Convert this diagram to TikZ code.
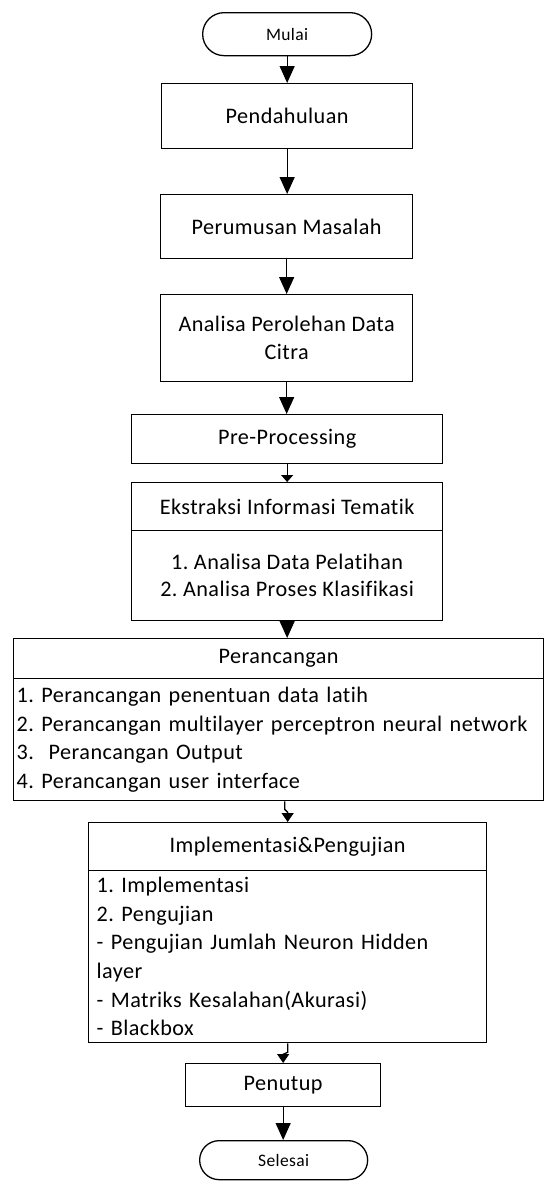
\documentclass[tikz,border=0pt]{standalone}
\usepackage{fontspec}
\setmainfont{Carlito}[LetterSpace=2.0, Ligatures=NoCommon]
\usetikzlibrary{arrows.meta}
\begin{document}
\frenchspacing
\begin{tikzpicture}[x=1pt,y=-1pt,
  box/.style={draw, line width=1.3pt, fill=white, rectangle, anchor=north west,
    inner sep=0pt, font=\fontsize{22.2}{28}\selectfont, align=center},
  term/.style={box, rounded corners=#1, font=\fontsize{17.5}{20}\selectfont},
  listbox/.style={box, align=left, inner xsep=#1, font=\fontsize{22.2}{28.6}\selectfont},
  arr/.style={line width=1.3pt, -{Triangle[length=17pt,width=15pt]}},
  sarr/.style={line width=1.3pt, -{Triangle[length=9pt,width=12pt]}},
  tarr/.style={line width=1.3pt, -{Triangle[length=7pt,width=12pt]}}]
\fill[white] (0,0) rectangle (544,1181);
\clip (0,0) rectangle (544,1181);
\useasboundingbox (0,0) rectangle (544,1181);

\node[term=21.5pt, minimum width=169pt, minimum height=43pt] (mulai) at (202,12) {Mulai};
\node[box, minimum width=251pt, minimum height=65pt] (pend) at (161,83) {Pendahuluan};
\node[box, minimum width=252pt, minimum height=64pt] (perm) at (160,194) {Perumusan Masalah};
\node[box, minimum width=252pt, minimum height=87pt] (anal) at (160,294) {Analisa Perolehan Data\\Citra};
\node[box, minimum width=311pt, minimum height=49pt] (pre) at (131,414) {Pre-Processing};
\node[box, minimum width=311pt, minimum height=48pt] (ekh) at (131,482) {Ekstraksi Informasi Tematik};
\node[box, minimum width=311pt, minimum height=90pt, font=\fontsize{22.2}{27}\selectfont] (ekb) at (131,530)
  {1. Analisa Data Pelatihan\\2. Analisa Proses Klasifikasi};
\node[box, minimum width=530pt, minimum height=40pt] (perh) at (13,638) {Perancangan};
\node[listbox=3pt, text width=524pt, minimum width=530pt, minimum height=122pt] (perb) at (13,678)
  {1. Perancangan penentuan data latih\\
   2. Perancangan multilayer perceptron neural network\\
   3.\ \ Perancangan Output\\
   4. Perancangan user interface};
\node[box, minimum width=398pt, minimum height=48pt] (imph) at (88,822) {Implementasi\&Pengujian};
\node[listbox=8pt, text width=382pt, minimum width=398pt, minimum height=172pt] (impb) at (88,870)
  {1. Implementasi\\
   2. Pengujian\\
   - Pengujian Jumlah Neuron Hidden\\
   layer\\
   - Matriks Kesalahan(Akurasi)\\
   - Blackbox};
\node[box, minimum width=195pt, minimum height=43pt] (pen) at (185,1063) {Penutup};
\node[term=19.5pt, minimum width=168pt, minimum height=39pt] (sel) at (199,1140) {Selesai};

\draw[arr] (mulai.south) -- (mulai.south |- pend.north);
\draw[arr] (pend.south) -- (pend.south |- perm.north);
\draw[arr] (perm.south) -- (perm.south |- anal.north);
\draw[arr] (anal.south) -- (anal.south |- pre.north);
\draw[tarr] (pre.south) -- (pre.south |- ekh.north);
\draw[arr] (ekb.south) -- (ekb.south |- perh.north);
\path (imph.north |- perb.south) ++(-3,0) coordinate (j1);
\draw[sarr] (j1) -- ++(0,8) -- ++(3,3) -- (imph.north);
\draw[sarr] (impb.south) -- ++(0,9) -- ++(-4.5,2) -- (pen.north);
\draw[arr] (pen.south) -- (pen.south |- sel.north);
\end{tikzpicture}
\end{document}
